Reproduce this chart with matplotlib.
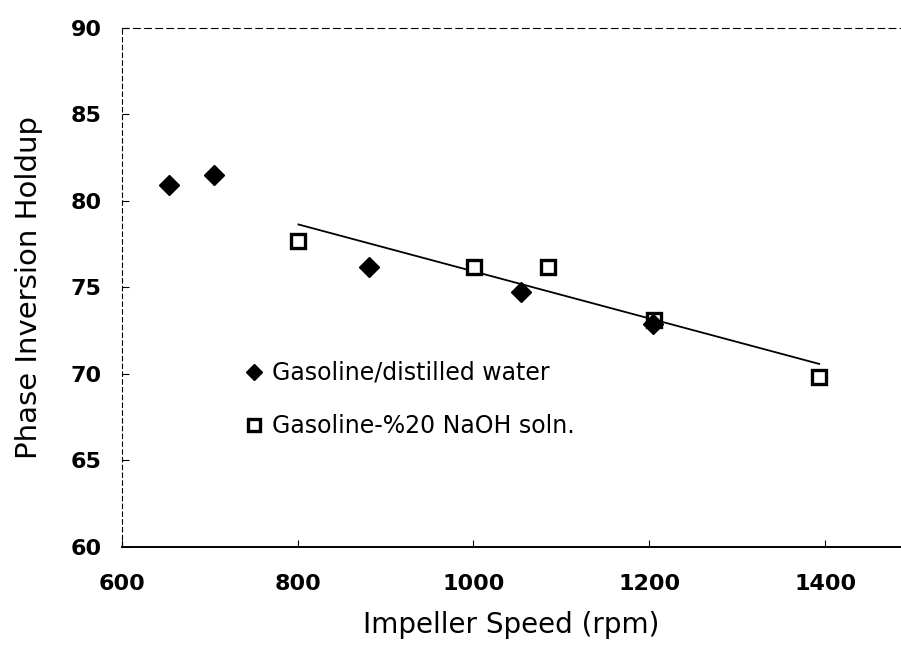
import numpy as np
import matplotlib
matplotlib.use("Agg")
import matplotlib.pyplot as plt

plt.rcParams['font.family'] = ['DejaVu Sans']

# Gasoline / distilled water
water_speed = [654, 705, 881, 1054, 1204]
water_holdup = [80.9, 81.5, 76.2, 74.7, 72.9]

# Gasoline - %20 NaOH solution
naoh_speed = [801, 1001, 1085, 1205, 1393]
naoh_holdup = [77.7, 76.2, 76.2, 73.1, 69.8]

fig = plt.figure(figsize=(9.01, 6.47), dpi=100)
ax = fig.add_axes([0.135, 0.155, 0.865, 0.802])

# linear fit for the NaOH series
coef = np.polyfit(naoh_speed, naoh_holdup, 1)
xfit = np.array([min(naoh_speed), max(naoh_speed)])
ax.plot(xfit, np.polyval(coef, xfit), color='black', lw=1.3, zorder=2)

ax.plot(naoh_speed, naoh_holdup, linestyle='none', marker='s', markersize=10,
        markerfacecolor='white', markeredgecolor='black', markeredgewidth=2.4,
        label='Gasoline-%20 NaOH soln.', zorder=3)
ax.plot(water_speed, water_holdup, linestyle='none', marker='D', markersize=10,
        color='black', label='Gasoline/distilled water', zorder=4)

ax.set_xlim(600, 1486)
ax.set_ylim(60, 90)
ax.set_xticks([600, 800, 1000, 1200, 1400])
ax.set_yticks([60, 65, 70, 75, 80, 85, 90])

ax.spines['right'].set_visible(False)
ax.spines['top'].set_linestyle((0, (6, 4)))
ax.spines['top'].set_linewidth(0.8)
ax.spines['left'].set_linestyle((0, (4, 3)))
ax.spines['left'].set_linewidth(0.8)
ax.spines['bottom'].set_linewidth(1.4)

ax.tick_params(direction='in', length=5, width=0.8, labelsize=16)
ax.tick_params(axis='x', pad=20)
ax.tick_params(axis='y', pad=14.5)
for lab in ax.get_xticklabels() + ax.get_yticklabels():
    lab.set_fontweight('bold')

ax.set_xlabel('Impeller Speed (rpm)', fontsize=20, labelpad=12)
ax.set_ylabel('Phase Inversion Holdup', fontsize=21, labelpad=20)

handles, labels = ax.get_legend_handles_labels()
leg = ax.legend(handles[::-1], labels[::-1], loc='upper left',
                bbox_to_anchor=(0.132, 0.399), frameon=False, fontsize=17,
                handlelength=0.7, handletextpad=0.4, labelspacing=1.25,
                markerscale=0.8)

fig.savefig('out.png', dpi=100)
